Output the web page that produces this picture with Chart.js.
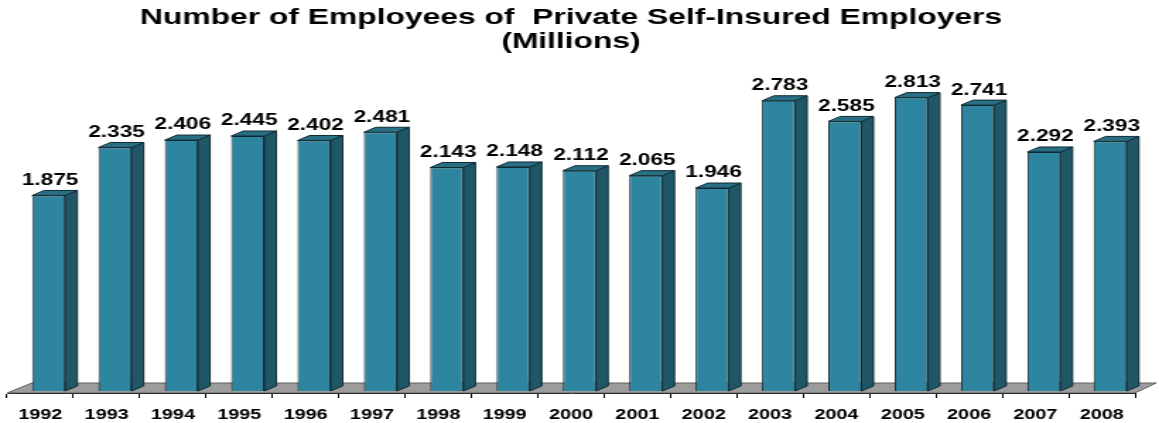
<!DOCTYPE html>
<html>
<head>
<meta charset="utf-8">
<title>Number of Employees of Private Self-Insured Employers</title>
<script src="https://cdn.jsdelivr.net/npm/chart.js@4"></script>
<style>
  html, body { margin: 0; padding: 0; background: #fff; overflow: hidden; }
  /* the original picture is stretched sideways, so the canvas is too */
  #wrap { width: 820px; height: 423px; transform: scaleX(1.41341); transform-origin: 0 0; }
  #chart { display: block; }
</style>
</head>
<body>
<div id="wrap"><canvas id="chart" width="820" height="423"></canvas></div>
<script>
// DATA
var years = ['1992', '1993', '1994', '1995', '1996', '1997', '1998', '1999', '2000',
             '2001', '2002', '2003', '2004', '2005', '2006', '2007', '2008'];
var employees = [1.875, 2.335, 2.406, 2.445, 2.402, 2.481, 2.143, 2.148, 2.112,
                 2.065, 1.946, 2.783, 2.585, 2.813, 2.741, 2.292, 2.393];
var titleLines = ['Number of Employees of  Private Self-Insured Employers', '(Millions)'];

var FONT = '"Liberation Sans", Arial, sans-serif';

// 3d look: front face is the normal bar, side + top + floor drawn here
var depthX = 8.5, depthY = -5;
var shiftX = 6, shiftY = -2;

var bars3d = {
  id: 'bars3d',
  beforeDatasetsDraw: function(chart) {
    var ctx = chart.ctx;
    var xs = chart.scales.x;
    var y0 = chart.chartArea.bottom;
    // floor
    ctx.save();
    ctx.beginPath();
    ctx.moveTo(xs.left, y0);
    ctx.lineTo(xs.right, y0);
    ctx.lineTo(xs.right + 15, y0 - 10);
    ctx.lineTo(xs.left + 17.5, y0 - 10);
    ctx.closePath();
    ctx.fillStyle = '#9c9c9c';
    ctx.fill();
    ctx.strokeStyle = '#5e5e5e';
    ctx.lineWidth = 1;
    ctx.stroke();
    ctx.restore();

    ctx.save();
    ctx.translate(shiftX, shiftY);
  },
  afterDatasetsDraw: function(chart) {
    var ctx = chart.ctx;
    var meta = chart.getDatasetMeta(0);
    meta.data.forEach(function(bar, i) {
      var p = bar.getProps(['x', 'y', 'base', 'width'], true);
      var l = p.x - p.width / 2, r = p.x + p.width / 2;
      ctx.lineWidth = 1;
      ctx.strokeStyle = '#102a33';
      // side
      ctx.beginPath();
      ctx.moveTo(r, p.y);
      ctx.lineTo(r + depthX, p.y + depthY);
      ctx.lineTo(r + depthX, p.base + depthY);
      ctx.lineTo(r, p.base);
      ctx.closePath();
      ctx.fillStyle = '#1f5767';
      ctx.fill();
      ctx.stroke();
      // top
      ctx.beginPath();
      ctx.moveTo(l, p.y);
      ctx.lineTo(l + depthX, p.y + depthY);
      ctx.lineTo(r + depthX, p.y + depthY);
      ctx.lineTo(r, p.y);
      ctx.closePath();
      ctx.fillStyle = '#296f83';
      ctx.fill();
      ctx.stroke();
      // value label
      ctx.fillStyle = '#000';
      ctx.font = 'bold 16px ' + FONT;
      ctx.textAlign = 'center';
      ctx.textBaseline = 'middle';
      ctx.fillText(employees[i].toFixed(3), p.x + 1, p.y - 15);
    });
    ctx.restore();
  }
};

var ctx = document.getElementById('chart').getContext('2d');
var chart = new Chart(ctx, {
  type: 'bar',
  data: {
    labels: years,
    datasets: [{
      label: 'Employees (millions)',
      data: employees,
      backgroundColor: '#2e85a0',
      borderColor: '#102a33',
      borderWidth: 1,
      barPercentage: 0.5,
      categoryPercentage: 1.0,
      clip: false
    }]
  },
  options: {
    responsive: false,
    devicePixelRatio: 1,
    animation: false,
    layout: { padding: { left: 5, right: 17, top: 0, bottom: 0 } },
    plugins: {
      legend: { display: false },
      tooltip: { enabled: false },
      title: {
        display: true,
        text: titleLines,
        color: '#000',
        font: { family: FONT, size: 22.5, weight: 'bold', lineHeight: 1.07 },
        padding: { top: 6, bottom: 5.1 }
      }
    },
    scales: {
      x: {
        grid: { display: true, drawOnChartArea: false, drawTicks: true, tickLength: 5, color: '#000' },
        border: { display: true, color: '#000', width: 1 },
        ticks: { color: '#000', padding: 9, font: { family: FONT, size: 14, weight: 'bold' } },
        afterFit: function(scale) { scale.height = 30; }
      },
      y: {
        display: false,
        min: 0,
        max: 3.2
      }
    }
  },
  plugins: [bars3d]
});
</script>
</body>
</html>
